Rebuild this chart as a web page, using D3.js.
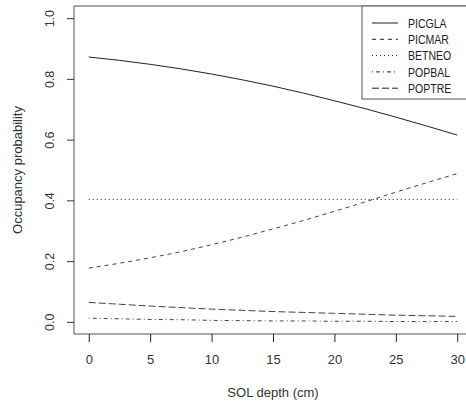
<!DOCTYPE html>
<html>
<head>
<meta charset="utf-8">
<script src="https://cdn.jsdelivr.net/npm/d3@7"></script>
<style>
  body { margin: 0; background: #fff; }
  svg { display: block; font-family: "Liberation Sans", Arial, sans-serif; }
</style>
</head>
<body>
<svg id="chart" width="466" height="404"></svg>
<script>
// SOL depth values (cm)
var depth = [0, 2.5, 5, 7.5, 10, 12.5, 15, 17.5, 20, 22.5, 25, 27.5, 30];

// occupancy probability per species
var picgla = [0.872, 0.861, 0.848, 0.833, 0.816, 0.797, 0.776, 0.753, 0.728, 0.702, 0.674, 0.645, 0.615];
var picmar = [0.177, 0.193, 0.211, 0.231, 0.254, 0.279, 0.306, 0.334, 0.364, 0.395, 0.427, 0.458, 0.488];
var betneo = [0.403, 0.403, 0.403, 0.403, 0.403, 0.403, 0.403, 0.403, 0.403, 0.403, 0.403, 0.403, 0.403];
var popbal = [0.012, 0.010, 0.008, 0.007, 0.005, 0.004, 0.003, 0.003, 0.002, 0.002, 0.001, 0.001, 0.001];
var poptre = [0.064, 0.058, 0.052, 0.047, 0.042, 0.038, 0.034, 0.031, 0.028, 0.025, 0.022, 0.020, 0.018];

var seriesNames = ["PICGLA", "PICMAR", "BETNEO", "POPBAL", "POPTRE"];
var seriesValues = [picgla, picmar, betneo, popbal, poptre];

var xTicks = [0, 5, 10, 15, 20, 25, 30];
var yTicks = [0, 0.2, 0.4, 0.6, 0.8, 1.0];

// R-style line types: solid, dashed, dotted, dotdash, longdash
var dashes = [null, "4,4", "1,3", "1,3,4,3", "7,3"];

function drawChart() {
	var svg = d3.select("#chart");
	var mLeft = 74, mRight = 472, mTop = 6, mBottom = 334;

	var x = d3.scaleLinear().domain([-1.2, 31.2]).range([mLeft, mRight]);
	var y = d3.scaleLinear().domain([-0.04, 1.04]).range([mBottom, mTop]);

	// plot box
	svg.append("rect")
		.attr("x", mLeft).attr("y", mTop)
		.attr("width", mRight - mLeft).attr("height", mBottom - mTop)
		.attr("fill", "none")
		.attr("stroke", "#555")
		.attr("stroke-width", 1);

	// x axis
	var xAxis = svg.append("g")
		.attr("transform", "translate(0," + mBottom + ")")
		.call(d3.axisBottom(x).tickValues(xTicks).tickSize(8).tickPadding(13).tickFormat(d3.format("d")));
	xAxis.select(".domain").remove();
	xAxis.selectAll("line").attr("stroke", "#222");
	xAxis.selectAll("text")
		.attr("font-size", 13)
		.attr("fill", "#333")
		.style("font-family", "Liberation Sans, Arial, sans-serif");

	// y axis, labels rotated like R's default
	var yAxis = svg.append("g")
		.attr("transform", "translate(" + mLeft + ",0)")
		.call(d3.axisLeft(y).tickValues(yTicks).tickSize(7).tickFormat(d3.format(".1f")));
	yAxis.select(".domain").remove();
	yAxis.selectAll("line").attr("stroke", "#333");
	yAxis.selectAll("text")
		.attr("font-size", 12.5)
		.attr("fill", "#333")
		.attr("x", null).attr("dy", null)
		.attr("text-anchor", "middle")
		.attr("transform", "translate(-24,0) rotate(-90)")
		.attr("y", 4)
		.style("font-family", "Liberation Sans, Arial, sans-serif");

	// axis titles
	svg.append("text")
		.attr("x", (x(0) + x(30)) / 2)
		.attr("y", 397)
		.attr("text-anchor", "middle")
		.attr("font-size", 13)
		.attr("fill", "#333")
		.text("SOL depth (cm)");

	svg.append("text")
		.attr("transform", "translate(22," + ((mTop + mBottom) / 2) + ") rotate(-90)")
		.attr("text-anchor", "middle")
		.attr("font-size", 13)
		.attr("fill", "#333")
		.text("Occupancy probability");

	// curves
	var line = d3.line()
		.x(function(d, i) { return x(depth[i]); })
		.y(function(d) { return y(d); })
		.curve(d3.curveMonotoneX);

	svg.append("g").selectAll("path")
		.data(seriesValues)
		.enter().append("path")
		.attr("d", line)
		.attr("fill", "none")
		.attr("stroke", function(d, i) { return i == 0 || i == 2 ? "#222" : "#444"; })
		.attr("stroke-width", 1)
		.attr("stroke-dasharray", function(d, i) { return dashes[i]; });

	// legend
	var legend = svg.append("g");
	legend.append("rect")
		.attr("x", 362).attr("y", mTop)
		.attr("width", mRight - 362).attr("height", 93)
		.attr("fill", "#fff")
		.attr("stroke", "#555");

	var rows = legend.selectAll("g.row")
		.data(seriesNames)
		.enter().append("g")
		.attr("class", "row")
		.attr("transform", function(d, i) { return "translate(0," + (23 + i * 16.3) + ")"; });

	rows.append("line")
		.attr("x1", 372).attr("x2", 398)
		.attr("stroke", "#222")
		.attr("stroke-dasharray", function(d, i) { return dashes[i]; });

	rows.append("text")
		.attr("transform", "translate(408,0) scale(0.78,1)")
		.attr("dy", "0.36em")
		.attr("font-size", 13.5)
		.attr("fill", "#222")
		.text(function(d) { return d; });
}

drawChart();
</script>
</body>
</html>
